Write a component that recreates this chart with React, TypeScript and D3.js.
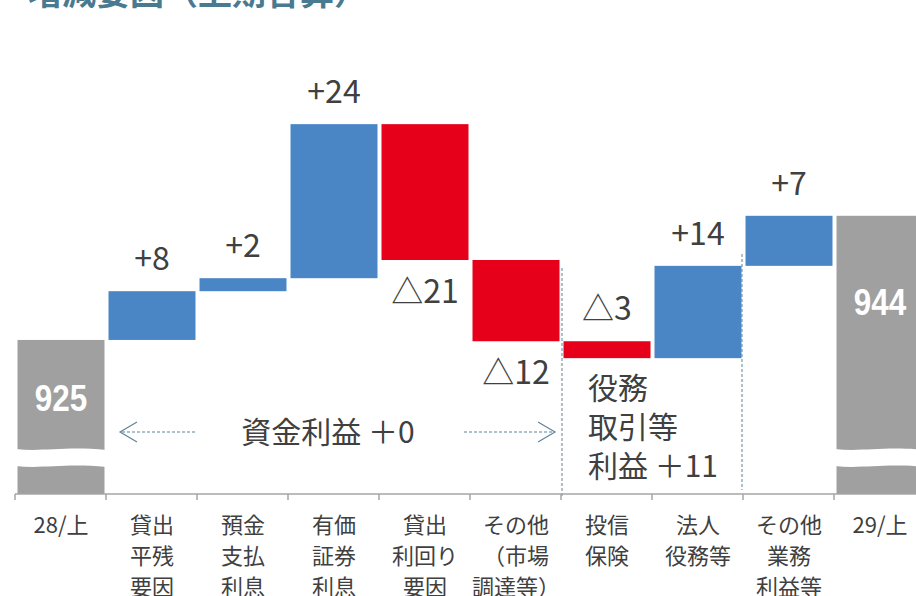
import * as d3 from "d3";

// Categories (x axis labels, one array per line break)
const CATEGORIES: string[][] = [
  ["28/上"],
  ["貸出", "平残", "要因"],
  ["預金", "支払", "利息"],
  ["有価", "証券", "利息"],
  ["貸出", "利回り", "要因"],
  ["その他", "（市場", "調達等）"],
  ["投信", "保険"],
  ["法人", "役務等"],
  ["その他", "業務", "利益等"],
  ["29/上"],
];

// Starting total and the step changes
const START_TOTAL = 925;
const DELTAS = [7.5, 2.0, 23.7, -20.9, -12.5, -2.6, 14.2, 7.7];
const DELTA_LABELS = ["+8", "+2", "+24", "△21", "△12", "△3", "+14", "+7"];
const DELTA_LABEL_SIDE = ["above", "above", "above", "below", "below", "above", "above", "above"];
const TOTAL_LABELS = ["925", "944"];
const FEE_LINES = ["役務", "取引等", "利益 ＋11"];

const W = 916;
const H = 596;
const AXIS_Y = 494;
const BREAK_TOP = 449;
const BREAK_BOTTOM = 466;
const TOTAL_LABEL_DY = [71, 99];

const BLUE = "#4a86c5";
const RED = "#e6001a";
const GRAY = "#a0a0a0";
const TEXT = "#404040";
const GUIDE = "#5f8399";
const CJK = "'Noto Sans CJK JP', 'Noto Sans', sans-serif";
const NARROW = "'Liberation Sans Narrow', 'Liberation Sans', Arial, sans-serif";

type Bar = { i: number; y0: number; y1: number; kind: "total" | "up" | "down" };

export default function App() {
  const xScale = d3
    .scaleBand<number>()
    .domain(d3.range(CATEGORIES.length))
    .range([15.5, 925.5])
    .paddingInner(0.044)
    .paddingOuter(0.022);

  const yScale = d3.scaleLinear().domain([901.3, 960]).range([AXIS_Y, 112.45]);

  // Build waterfall
  const bars: Bar[] = [];
  let run = START_TOTAL;
  bars.push({ i: 0, y0: 901.3, y1: START_TOTAL, kind: "total" });
  DELTAS.forEach((d, k) => {
    const next = run + d;
    bars.push({ i: k + 1, y0: run, y1: next, kind: d >= 0 ? "up" : "down" });
    run = next;
  });
  bars.push({ i: CATEGORIES.length - 1, y0: 901.3, y1: run, kind: "total" });

  const step = xScale.step();
  const boundary = (i: number) => 15 + i * step;
  const bw = xScale.bandwidth();

  const wave = (x0: number, w: number, y: number) =>
    `M${x0},${y} C${x0 + w * 0.3},${y + 3} ${x0 + w * 0.55},${y - 3} ${x0 + w},${y + 1}`;

  return (
    <div style={{ position: "absolute", left: 0, top: 0 }}>
      <svg width={W} height={H} style={{ display: "block", overflow: "hidden" }}>
        <rect width={W} height={H} fill="#fff" />
        {/* Title (cut off at top) */}
        <text x={28} y={5} fill="#4a7a90" fontFamily={CJK} fontWeight={700} fontSize={34}>
          増減要因（上期合算）
        </text>

        {/* Bars */}
        {bars.map((b) => {
          const x = xScale(b.i)!;
          const top = yScale(Math.max(b.y0, b.y1));
          const bottom = yScale(Math.min(b.y0, b.y1));
          const fill = b.kind === "total" ? GRAY : b.kind === "up" ? BLUE : RED;
          return <rect key={b.i} x={x} y={top} width={bw} height={bottom - top} fill={fill} />;
        })}

        {/* Axis break on total bars */}
        {bars
          .filter((b) => b.kind === "total")
          .map((b) => {
            const x = xScale(b.i)! - 2;
            const w = bw + 4;
            const d =
              wave(x, w, BREAK_TOP) +
              ` L${x + w},${BREAK_BOTTOM + 1} C${x + w * 0.55},${BREAK_BOTTOM - 3} ${x + w * 0.3},${BREAK_BOTTOM + 3} ${x},${BREAK_BOTTOM} Z`;
            return <path key={`brk${b.i}`} d={d} fill="#fff" />;
          })}

        {/* Total labels */}
        {[0, bars.length - 1].map((bi, k) => {
          const b = bars[bi];
          const cx = xScale(b.i)! + bw / 2;
          const cy = yScale(b.y1) + TOTAL_LABEL_DY[k];
          return (
            <text
              key={`tl${k}`}
              transform={`translate(${cx},${cy}) scale(0.85,1)`}
              textAnchor="middle"
              fill="#fff"
              fontFamily={NARROW}
              fontWeight={700}
              fontSize={37}
            >
              {TOTAL_LABELS[k]}
            </text>
          );
        })}

        {/* Delta labels */}
        {bars.slice(1, bars.length - 1).map((b, k) => {
          const top = yScale(Math.max(b.y0, b.y1));
          const bottom = yScale(Math.min(b.y0, b.y1));
          const y = DELTA_LABEL_SIDE[k] === "above" ? top - 21 : bottom + 43;
          return (
            <text
              key={`dl${k}`}
              x={xScale(b.i)! + bw / 2}
              y={y}
              textAnchor="middle"
              fill={TEXT}
              fontFamily={CJK}
              fontSize={32}
            >
              {DELTA_LABELS[k]}
            </text>
          );
        })}

        {/* Group divider dashed lines */}
        <line x1={boundary(6) + 1} x2={boundary(6) + 1} y1={268} y2={498} stroke={GUIDE} strokeDasharray="3,2" />
        <line x1={boundary(8) - 1} x2={boundary(8) - 1} y1={254} y2={490} stroke={GUIDE} strokeDasharray="3,2" />

        {/* 資金利益 arrows */}
        <g stroke={GUIDE} fill="none" strokeWidth={1.2}>
          <line x1={boundary(1) + 16} x2={boundary(1) + 89} y1={432} y2={432} strokeDasharray="3,2" />
          <polyline points={`${boundary(1) + 31},${422} ${boundary(1) + 14},${432} ${boundary(1) + 31},${442}`} />
          <line x1={boundary(6) - 9} x2={boundary(6) - 99} y1={432} y2={432} strokeDasharray="3,2" />
          <polyline points={`${boundary(6) - 23},${422} ${boundary(6) - 6},${432} ${boundary(6) - 23},${442}`} />
        </g>
        <text x={328} y={443} textAnchor="middle" fill={TEXT} fontFamily={CJK} fontSize={30}>
          資金利益 ＋0
        </text>

        {/* 役務取引等利益 */}
        {FEE_LINES.map((t, k) => (
          <text key={`fee${k}`} x={588} y={399 + k * 39} fill={TEXT} fontFamily={CJK} fontSize={30}>
            {t}
          </text>
        ))}

        {/* X axis */}
        <line x1={15} x2={W} y1={AXIS_Y} y2={AXIS_Y} stroke="#a6a6a6" strokeWidth={1.5} />
        {d3.range(CATEGORIES.length + 1).map((i) => (
          <line
            key={`tk${i}`}
            x1={boundary(i)}
            x2={boundary(i)}
            y1={AXIS_Y}
            y2={AXIS_Y + 6}
            stroke="#a6a6a6"
            strokeWidth={1.5}
          />
        ))}
        {CATEGORIES.map((lines, i) =>
          lines.map((t, k) => (
            <text
              key={`cat${i}-${k}`}
              x={xScale(i)! + bw / 2}
              y={533 + k * 31}
              textAnchor="middle"
              fill={TEXT}
              fontFamily={CJK}
              fontSize={22}
            >
              {t}
            </text>
          ))
        )}
      </svg>
    </div>
  );
}
